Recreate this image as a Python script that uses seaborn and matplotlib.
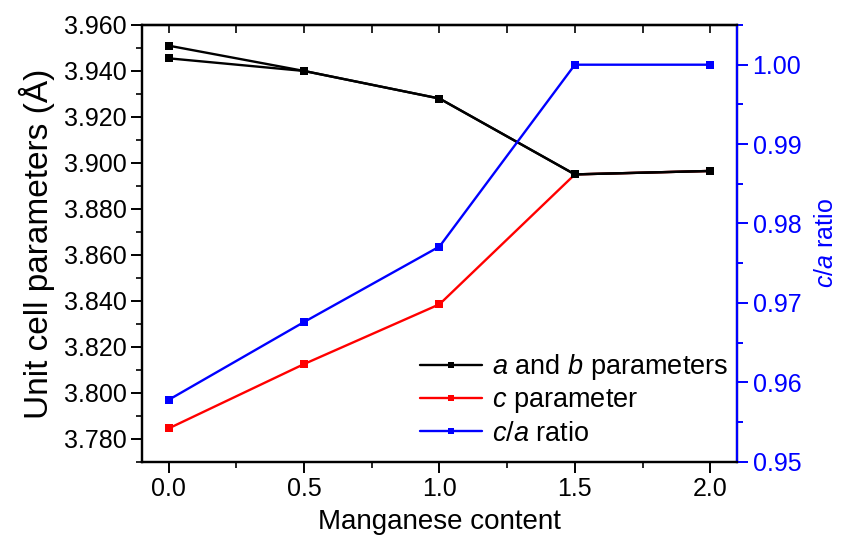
import matplotlib
matplotlib.use("Agg")
import matplotlib.pyplot as plt
from matplotlib.ticker import MultipleLocator, FormatStrFormatter
import seaborn as sns
import pandas as pd

# ---- data ----
mn_content = [0.0, 0.5, 1.0, 1.5, 2.0]
a_param = [3.9510, 3.9400, 3.9280, 3.8950, 3.8965]
b_param = [3.9455, 3.9400, 3.9280, 3.8950, 3.8965]
c_param = [3.7845, 3.8125, 3.8385, 3.8950, 3.8965]
ca_ratio = [0.9578, 0.9676, 0.9771, 1.0000, 1.0000]

x_label = "Manganese content"
y_label = "Unit cell parameters (Å)"
y2_label = "$\\it{c/a}$ ratio"
legend_labels = ["$\\it{a}$ and $\\it{b}$ parameters", "$\\it{c}$ parameter", "$\\it{c/a}$ ratio"]

sns.set_theme(style="white")
plt.rcParams['font.family'] = ['Liberation Sans', 'DejaVu Sans']
plt.rcParams['mathtext.fontset'] = 'custom'
plt.rcParams['mathtext.rm'] = 'Liberation Sans'
plt.rcParams['mathtext.it'] = 'Liberation Sans:italic'
plt.rcParams['text.color'] = 'black'
plt.rcParams['axes.labelcolor'] = 'black'

df = pd.DataFrame({"x": mn_content, "a": a_param, "b": b_param, "c": c_param, "ca": ca_ratio})

fig = plt.figure(figsize=(8.42, 5.38), dpi=100)
ax = fig.add_axes([141.7/842, 1-461.7/538, (737.3-141.7)/842, (461.7-25)/538])
ax2 = ax.twinx()

lkw = dict(marker="s", markersize=6, linewidth=1.7, markeredgewidth=0)
sns.lineplot(data=df, x="x", y="c", ax=ax, color="#ff0000", **lkw)
sns.lineplot(data=df, x="x", y="a", ax=ax, color="black", **lkw)
sns.lineplot(data=df, x="x", y="b", ax=ax, color="black", **lkw)
sns.lineplot(data=df, x="x", y="ca", ax=ax2, color="#0000ff", **lkw)

ax.set_xlim(-0.1, 2.1)
ax.set_ylim(3.770, 3.960)
ax2.set_ylim(0.95, 1.005)

ax.xaxis.set_major_locator(MultipleLocator(0.5))
ax.xaxis.set_minor_locator(MultipleLocator(0.25))
ax.xaxis.set_major_formatter(FormatStrFormatter("%.1f"))
ax.yaxis.set_major_locator(MultipleLocator(0.02))
ax.yaxis.set_minor_locator(MultipleLocator(0.01))
ax.yaxis.set_major_formatter(FormatStrFormatter("%.3f"))
ax2.yaxis.set_major_locator(MultipleLocator(0.01))
ax2.yaxis.set_minor_locator(MultipleLocator(0.005))
ax2.yaxis.set_major_formatter(FormatStrFormatter("%.2f"))

for sp in ax.spines.values():
    sp.set_color("black")
    sp.set_linewidth(1.6)
for name, sp in ax2.spines.items():
    sp.set_linewidth(1.6)
    sp.set_color("black")
ax2.spines["right"].set_color("#0000ff")

ax.tick_params(axis="both", which="major", direction="out", length=8, width=1.4,
               labelsize=18, colors="black", pad=3, bottom=True, left=True, top=False, right=False)
ax.tick_params(axis="both", which="minor", direction="out", length=4.5, width=1.4,
               bottom=True, left=True, top=False, right=False)
ax2.tick_params(axis="y", which="major", direction="out", length=8, width=1.4,
                labelsize=18, colors="#0000ff", pad=3, right=True)
ax2.tick_params(axis="y", which="minor", direction="out", length=4.5, width=1.4,
                colors="#0000ff", right=True)

# top inward ticks
sec = ax.secondary_xaxis("top")
sec.xaxis.set_major_locator(MultipleLocator(0.25))
sec.tick_params(axis="x", direction="in", length=6, width=1.4, labeltop=False)
sec.spines["top"].set_linewidth(1.6)

ax.set_xlabel(x_label, fontsize=20, color="black", labelpad=6)
ax.set_ylabel(y_label, fontsize=24, color="black", labelpad=6)
ax2.set_ylabel(y2_label, fontsize=18, color="#0000ff", labelpad=9)
ax.grid(False)
ax2.grid(False)

h = ax.get_lines()
h2 = ax2.get_lines()
handles = [h[1], h[0], h2[0]]
leg = ax.legend(handles, legend_labels, loc="upper left",
                bbox_to_anchor=((420-141.7)/(737.3-141.7), (461.7-352)/(461.7-25)),
                frameon=False, fontsize=19.5, handlelength=2.3, handletextpad=0.35,
                labelspacing=0.2, borderpad=0, borderaxespad=0, markerscale=0.8)
for t in leg.get_texts():
    t.set_color("black")

fig.savefig("out.png", dpi=100)
